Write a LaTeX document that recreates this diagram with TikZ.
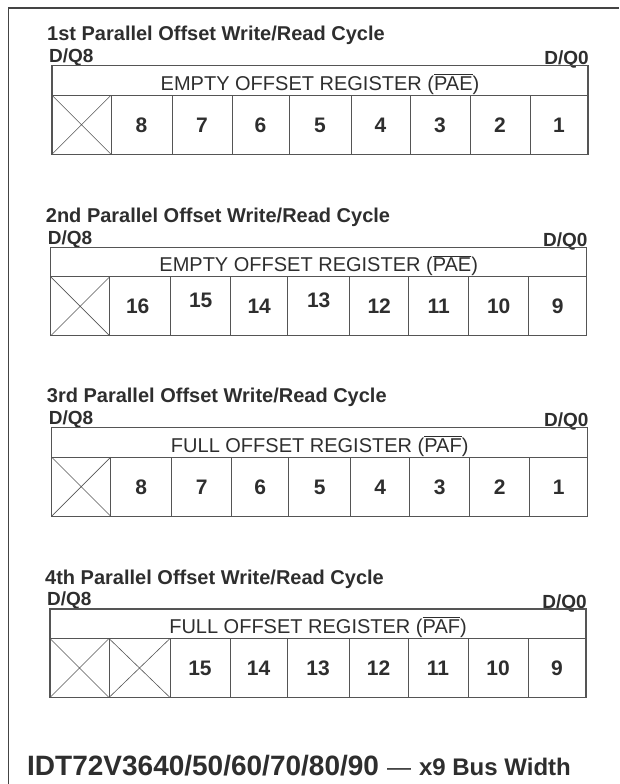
\documentclass[tikz,border=0pt]{standalone}
\usepackage{fontspec}
\setmainfont{Liberation Sans}
\definecolor{txt}{HTML}{2E2E2E}
\definecolor{ln}{HTML}{555555}
\definecolor{frm}{HTML}{444444}
\newcommand\ovl[1]{\leavevmode\vbox{\hrule height 0.9pt\kern 1.6pt\hbox{#1}}}
\tikzset{
  boxline/.style={draw=ln, line width=1.1pt},
  cellline/.style={draw=ln, line width=0.9pt},
  xline/.style={draw=ln, line width=0.6pt},
  frameline/.style={draw=frm, line width=1.5pt},
  titletext/.style={anchor=base west, inner sep=0pt, font=\fontsize{20}{24}\bfseries, text=txt},
  dqtext/.style={anchor=base west, inner sep=0pt, font=\fontsize{19}{22}\bfseries, text=txt},
  dqrtext/.style={dqtext, anchor=base east},
  hdrtext/.style={anchor=base, inner sep=0pt, font=\fontsize{20}{24}\selectfont, text=txt},
  digittext/.style={anchor=base, inner sep=0pt, font=\fontsize{21}{24}\bfseries, text=txt},
  foottext/.style={anchor=base west, inner sep=0pt, text=txt},
}
\newcommand\regblock[6]{%
\begin{scope}[shift={(#2,#3)}]
  \node[titletext] (#1t) at (-5,-25) {#4};
  \node[dqtext] (#1l) at (-3,-3.3) {D/Q8};
  \node[dqrtext] (#1r) at (537,-0.8) {D/Q0};
  \draw[boxline] (0,0) rectangle (536,88.5);
  \draw[cellline] (0,29.5) -- (536,29.5);
  \foreach \x in {59,120,180,237,299,358,418,478} \draw[cellline] (\x,29.5) -- (\x,88.5);
  \node[hdrtext] (#1h) at (268,24.5) {#5};
  \foreach \c/\d/\dy [count=\i] in {#6} \node[digittext] (#1d\i) at (\c,{66.5-\dy}) {\d};
\end{scope}}
\newcommand\crosscell[3]{%
  \draw[xline] (#1,#2) -- ++(#3,59) ++(-#3,0) -- ++(#3,-59);}
\begin{document}
\begin{tikzpicture}[x=1pt,y=-1pt]
\useasboundingbox (0,0) rectangle (619,784);
\draw[frameline] (8.5,784) -- (8.5,8) -- (619,8);

\regblock{a}{52}{65.7}{1st Parallel Offset Write/Read Cycle}{EMPTY OFFSET REGISTER (\ovl{PAE})}
  {89.5/8/0,150/7/0,208.5/6/0,268/5/0,328.5/4/0,388/3/0,448/2/0,507/1/0}
\crosscell{52}{95.2}{59}

\regblock{b}{50.7}{247.3}{2nd Parallel Offset Write/Read Cycle}{EMPTY OFFSET REGISTER (\ovl{PAE})}
  {87/16/0,150/15/6,208.5/14/0,268/13/6,328.5/12/0,388/11/0,448/10/0,507/9/0}
\crosscell{50.7}{276.8}{59}

\regblock{c}{51.7}{427.7}{3rd Parallel Offset Write/Read Cycle}{FULL OFFSET REGISTER (\ovl{PAF})}
  {89.5/8/0,150/7/0,208.5/6/0,268/5/0,328.5/4/0,388/3/0,448/2/0,507/1/0}
\crosscell{51.7}{457.2}{59}

\regblock{d}{50}{609}{4th Parallel Offset Write/Read Cycle}{FULL OFFSET REGISTER (\ovl{PAF})}
  {150/15/0,208.5/14/0,268/13/0,328.5/12/0,388/11/0,448/10/0,507/9/0}
\crosscell{50}{638.5}{59}
\crosscell{109}{638.5}{61}

\node[foottext] (foot) at (27,775) {{\fontsize{28}{30}\bfseries IDT72V3640/50/60/70/80/90}\fontsize{24}{28}\selectfont\hspace{8pt}\mdseries ---\hspace{8pt}\bfseries x9 Bus Width};
\end{tikzpicture}
\end{document}
